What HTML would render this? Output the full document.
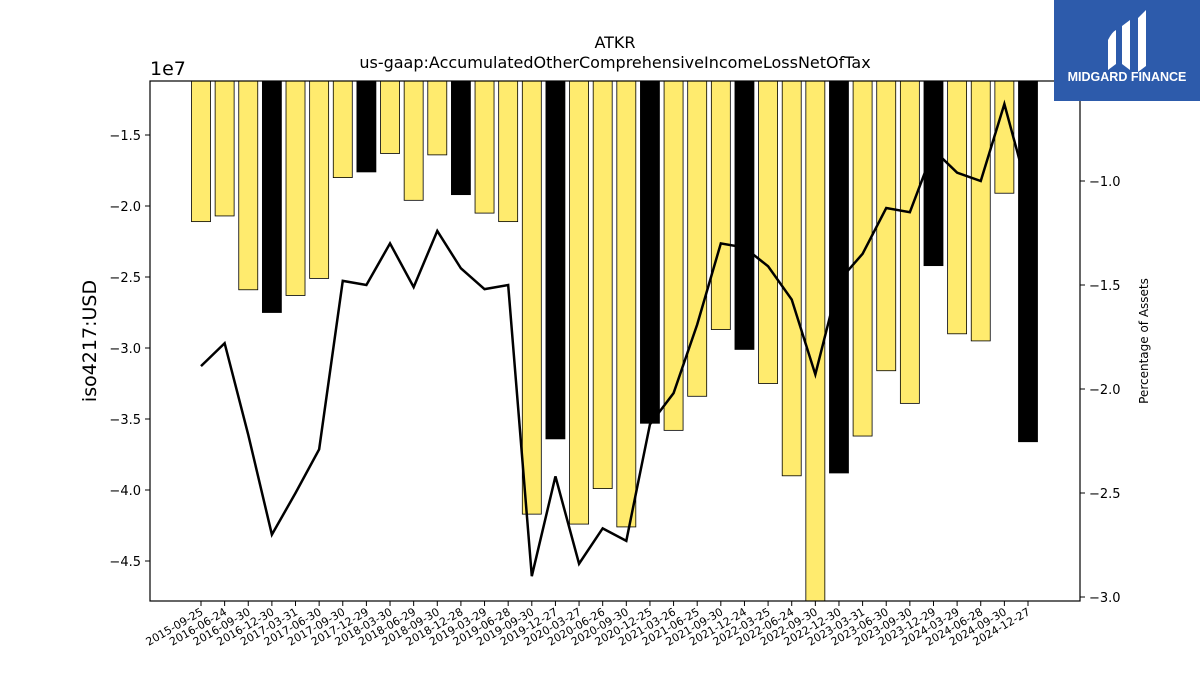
<!DOCTYPE html>
<html><head><meta charset="utf-8"><style>
body{margin:0;background:#fff;width:1200px;height:675px;overflow:hidden;font-family:"Liberation Sans","DejaVu Sans",sans-serif}
</style></head><body>
<svg id="chart" width="1200" height="675" xmlns="http://www.w3.org/2000/svg" font-family="DejaVu Sans, Liberation Sans, sans-serif">
<text x="615" y="48" text-anchor="middle" font-size="16">ATKR</text>
<text x="615" y="68" text-anchor="middle" font-size="16">us-gaap:AccumulatedOtherComprehensiveIncomeLossNetOfTax</text>
<text x="150" y="75" font-size="19">1e7</text>
<text transform="translate(96,341) rotate(-90)" text-anchor="middle" font-size="19">iso4217:USD</text>
<text transform="translate(1148,341) rotate(-90)" text-anchor="middle" font-size="12">Percentage of Assets</text>
<g id="bars"></g><g id="line"></g><g id="axes"></g>
<g>
<rect x="1054" y="0" width="146" height="101" fill="#2d5bab"/>
<path d="M1108 40 q4 -8 8 -10 v34 l-8 6 z M1122 26 l8 -6 v50 l-8 -6 z M1138 18 l8 -8 v56 l-8 6 z" fill="#fff"/>
<text x="1127" y="81" text-anchor="middle" font-size="12.5" font-weight="bold" fill="#fff" font-family="Liberation Sans, sans-serif">MIDGARD FINANCE</text>
</g>
</svg>
<script>
const categories=["2015-09-25","2016-06-24","2016-09-30","2016-12-30","2017-03-31","2017-06-30","2017-09-30","2017-12-29","2018-03-30","2018-06-29","2018-09-30","2018-12-28","2019-03-29","2019-06-28","2019-09-30","2019-12-27","2020-03-27","2020-06-26","2020-09-30","2020-12-25","2021-03-26","2021-06-25","2021-09-30","2021-12-24","2022-03-25","2022-06-24","2022-09-30","2022-12-30","2023-03-31","2023-06-30","2023-09-30","2023-12-29","2024-03-29","2024-06-28","2024-09-30","2024-12-27"];
const barValues=[-2.11,-2.07,-2.59,-2.75,-2.63,-2.51,-1.80,-1.76,-1.63,-1.96,-1.64,-1.92,-2.05,-2.11,-4.17,-3.64,-4.24,-3.99,-4.26,-3.53,-3.58,-3.34,-2.87,-3.01,-3.25,-3.90,-4.85,-3.88,-3.62,-3.16,-3.39,-2.42,-2.90,-2.95,-1.91,-3.66];
const fiscalYearEnd=[0,0,0,1,0,0,0,1,0,0,0,1,0,0,0,1,0,0,0,1,0,0,0,1,0,0,0,1,0,0,0,1,0,0,0,1];
const pctValues=[-1.89,-1.78,-2.22,-2.70,-2.50,-2.29,-1.48,-1.50,-1.30,-1.51,-1.24,-1.42,-1.52,-1.50,-2.90,-2.42,-2.84,-2.67,-2.73,-2.17,-2.02,-1.69,-1.30,-1.32,-1.41,-1.57,-1.93,-1.48,-1.35,-1.13,-1.15,-0.85,-0.96,-1.00,-0.63,-1.05];
const leftTicks=[-1.5,-2.0,-2.5,-3.0,-3.5,-4.0,-4.5];
const rightTicks=[-1.0,-1.5,-2.0,-2.5,-3.0];
const NS="http://www.w3.org/2000/svg";
const L=150,R=1080,T=81,B=601;
const x=i=>201+i*(1028-201)/(categories.length-1);
const yL=v=>135+(-1.5-v)*142;
const yR=v=>181+(-1.0-v)*208;
function mk(t,a,p){const e=document.createElementNS(NS,t);for(const k in a)e.setAttribute(k,a[k]);p.appendChild(e);return e;}
const bars=document.getElementById('bars');
barValues.forEach((v,i)=>{
 const y2=Math.min(yL(v),B);
 const r=mk('rect',{x:x(i)-9.5,y:T,width:19,height:y2-T,fill:fiscalYearEnd[i]?'#000':'#ffeb6e',stroke:'#000','stroke-width':0.8},bars);
 
 
});
const lg=document.getElementById('line');
const pl=mk('polyline',{points:pctValues.map((v,i)=>x(i)+','+yR(v)).join(' '),fill:'none',stroke:'#000','stroke-width':2.5},lg);


const ax=document.getElementById('axes');
const fr=mk('rect',{x:L,y:T,width:R-L,height:B-T,fill:'none',stroke:'#000','stroke-width':1.2},ax);


leftTicks.forEach(v=>{const y=yL(v);mk('line',{x1:L-5,x2:L,y1:y,y2:y,stroke:'#000'},ax);
 const t=mk('text',{x:L-9,y:y+5,'text-anchor':'end','font-size':13},ax);t.textContent=v.toFixed(1).replace('-','−');
 
 });
rightTicks.forEach(v=>{const y=yR(v);mk('line',{x1:R,x2:R+5,y1:y,y2:y,stroke:'#000'},ax);
 const t=mk('text',{x:R+9,y:y+5,'font-size':13},ax);t.textContent=v.toFixed(1).replace('-','−');
 
 });
categories.forEach((c,i)=>{const xx=x(i);mk('line',{x1:xx,x2:xx,y1:B,y2:B+5,stroke:'#000'},ax);
 const t=mk('text',{transform:`translate(${xx+3},${B+13}) rotate(-30)`,'text-anchor':'end','font-size':11},ax);t.textContent=c;
 
 });
</script>
</body></html>
